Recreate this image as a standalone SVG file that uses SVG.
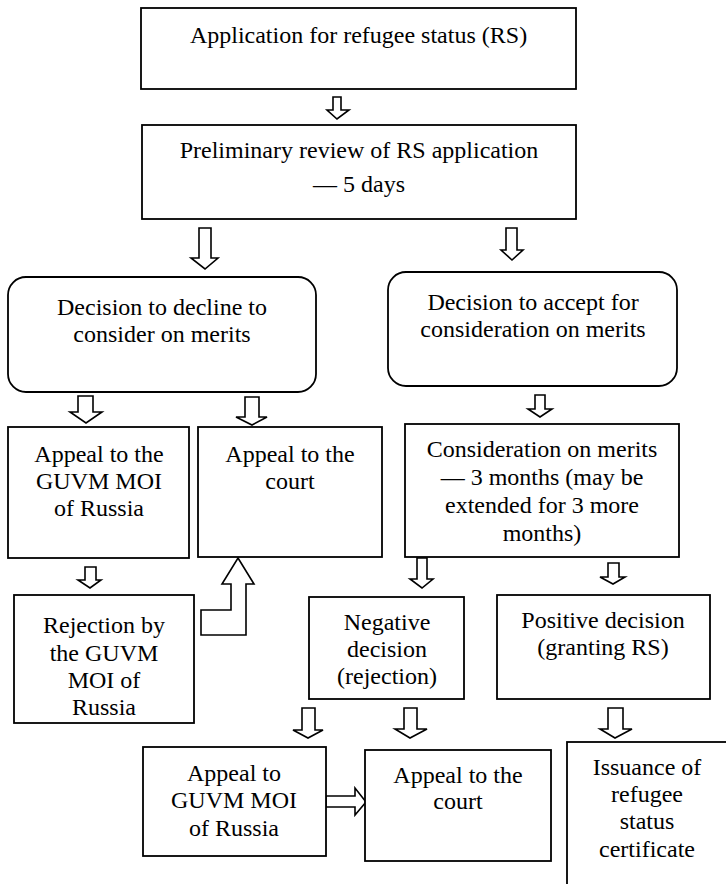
<svg xmlns="http://www.w3.org/2000/svg" width="726" height="884" viewBox="0 0 726 884">
<style>
.box{fill:#fff;stroke:#000;stroke-width:1.8}
.arr{fill:#fff;stroke:#000;stroke-width:1.6;stroke-linejoin:miter}
.t{font-family:'Liberation Serif','DejaVu Serif','Times New Roman',Times,serif;font-size:24px;fill:#000;text-anchor:middle}
</style>
<rect width="726" height="884" fill="#fff"/>
<g id="connectors">
<polygon class="arr" points="333,97 341,97 341,110 349,110 337,119 327,110 333,110"/>
<polygon class="arr" points="199,228 211,228 211,258 218,258 205,269 191,258 199,258"/>
<polygon class="arr" points="506,228 517,228 517,250 523,250 512,260 501,250 506,250"/>
<polygon class="arr" points="78,396 93,396 93,412 102,412 86,423 70,412 78,412"/>
<polygon class="arr" points="245,397 259,397 259,417 267,417 252,425 236,417 245,417"/>
<polygon class="arr" points="535,395 545,395 545,409 552,409 540,417 528,409 535,409"/>
<polygon class="arr" points="85,567 96,567 96,580 101,580 90,588 78,580 85,580"/>
<polygon class="arr" points="238,558 254,584 246,584 246,635 201,635 201,610 231,610 231,584 222,584"/>
<polygon class="arr" points="417,558 427,558 427,579 433,579 422,588 410,579 417,579"/>
<polygon class="arr" points="608,563 619,563 619,577 625,577 613,584 600,577 608,577"/>
<polygon class="arr" points="302,708 315,708 315,730 323,730 308,738 293,730 302,730"/>
<polygon class="arr" points="404,708 417,708 417,729 427,729 410,738 395,729 404,729"/>
<polygon class="arr" points="608,708 623,708 623,729 632,729 615,738 600,729 608,729"/>
<polygon class="arr" points="326,796 355,796 355,788 366,802 355,815 355,807 326,807"/>
</g>
<g class="t" font-family="Liberation Serif, DejaVu Serif, serif">
<g id="n1">
<rect class="box" x="141" y="8" width="435" height="81"/>
<text x="358.5" y="43">Application for refugee status (RS)</text>
</g>
<g id="n2">
<rect class="box" x="142" y="125" width="434" height="94"/>
<text x="359" y="158">Preliminary review of RS application</text>
<text x="359" y="192">— 5 days</text>
</g>
<g id="n3">
<rect class="box" x="8" y="277" width="308" height="115" rx="18" ry="18"/>
<text x="162" y="315">Decision to decline to</text>
<text x="162" y="342">consider on merits</text>
</g>
<g id="n4">
<rect class="box" x="388" y="272" width="289" height="114" rx="18" ry="18"/>
<text x="533" y="310">Decision to accept for</text>
<text x="533" y="337">consideration on merits</text>
</g>
<g id="n5">
<rect class="box" x="8" y="427" width="181" height="131"/>
<text x="99" y="462">Appeal to the</text>
<text x="99" y="489">GUVM MOI</text>
<text x="99" y="516">of Russia</text>
</g>
<g id="n6">
<rect class="box" x="198" y="427" width="184" height="130"/>
<text x="290" y="462">Appeal to the</text>
<text x="290" y="489">court</text>
</g>
<g id="n7">
<rect class="box" x="405" y="424" width="274" height="133"/>
<text x="542" y="457">Consideration on merits</text>
<text x="542" y="485">— 3 months (may be</text>
<text x="542" y="513">extended for 3 more</text>
<text x="542" y="541">months)</text>
</g>
<g id="n8">
<rect class="box" x="14" y="595" width="180" height="128"/>
<text x="104" y="633">Rejection by</text>
<text x="104" y="661">the GUVM</text>
<text x="104" y="688">MOI of</text>
<text x="104" y="715">Russia</text>
</g>
<g id="n9">
<rect class="box" x="309" y="597" width="155" height="102"/>
<text x="387" y="630">Negative</text>
<text x="387" y="657">decision</text>
<text x="387" y="684">(rejection)</text>
</g>
<g id="n10">
<rect class="box" x="497" y="595" width="213" height="104"/>
<text x="603" y="628">Positive decision</text>
<text x="603" y="655">(granting RS)</text>
</g>
<g id="n11">
<rect class="box" x="143" y="747" width="183" height="109"/>
<text x="234" y="781">Appeal to</text>
<text x="234" y="808">GUVM MOI</text>
<text x="234" y="836">of Russia</text>
</g>
<g id="n12">
<rect class="box" x="365" y="750" width="186" height="111"/>
<text x="458" y="783">Appeal to the</text>
<text x="458" y="809">court</text>
</g>
<g id="n13">
<rect class="box" x="567" y="742" width="200" height="200"/>
<text x="647" y="775">Issuance of</text>
<text x="647" y="802">refugee</text>
<text x="647" y="829">status</text>
<text x="647" y="857">certificate</text>
</g>
</g>
</svg>
